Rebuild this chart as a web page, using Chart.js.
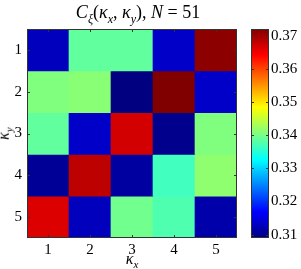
<!DOCTYPE html>
<html>
<head>
<meta charset="utf-8">
<script src="https://cdn.jsdelivr.net/npm/chart.js@4"></script>
<style>
  body { margin: 0; width: 301px; height: 269px; background: #fff; position: relative; overflow: hidden; font-family: "Liberation Serif", serif; }
  canvas { position: absolute; top: 0; }
  .lbl { position: absolute; font-size: 16px; color: #000; white-space: nowrap; line-height: 1; }
  .lbl sub { font-size: 11px; }
  #title { font-size: 18px; }
  #title sub { font-size: 12px; }
</style>
</head>
<body>
<canvas id="heat" width="240" height="269" style="left:0;width:240px;height:269px"></canvas>
<canvas id="cbar" width="56" height="269" style="left:245px;width:56px;height:269px"></canvas>
<div class="lbl" id="title" style="left:138px;top:3px;transform:translateX(-50%)"><i>C</i><sub><i>ξ</i></sub>(<i>κ</i><sub><i>x</i></sub>, <i>κ</i><sub><i>y</i></sub>), <i>N</i> = 51</div>
<div class="lbl" style="left:132px;top:251px;transform:translateX(-50%)"><i>κ</i><sub><i>x</i></sub></div>
<div class="lbl" style="left:-1px;top:124px;transform:rotate(-90deg)"><i>κ</i><sub><i>y</i></sub></div>
<script>
const kx = ["1", "2", "3", "4", "5"];
const ky = [1, 2, 3, 4, 5];
// one array per row (ky = 1..5), values per kx column
const row1 = [0.3128, 0.3386, 0.3386, 0.3135, 0.3712];
const row2 = [0.3405, 0.3411, 0.3090, 0.3720, 0.3135];
const row3 = [0.3386, 0.3135, 0.3669, 0.3098, 0.3405];
const row4 = [0.3104, 0.3682, 0.3110, 0.3366, 0.3415];
const row5 = [0.3663, 0.3128, 0.3396, 0.3375, 0.3116];
const rows = [row1, row2, row3, row4, row5];
const cbarTicks = [0.31, 0.32, 0.33, 0.34, 0.35, 0.36, 0.37];

const vmin = Math.min(...rows.flat());
const vmax = Math.max(...rows.flat());

Chart.defaults.font.family = "'Liberation Serif', serif";
Chart.defaults.font.size = 15;
Chart.defaults.color = "#000";

function jet(v) {
  const t = (v - vmin) / (vmax - vmin);
  const c = x => Math.round(255 * Math.max(0, Math.min(1, x)));
  return `rgb(${c(1.5 - Math.abs(4 * t - 3))},${c(1.5 - Math.abs(4 * t - 2))},${c(1.5 - Math.abs(4 * t - 1))})`;
}

// matlab-style box with inward ticks on every side
const boxPlugin = {
  id: "box",
  afterDraw(chart) {
    const { ctx, chartArea: a, scales } = chart;
    ctx.save();
    ctx.strokeStyle = "#333";
    ctx.lineWidth = 1;
    ctx.strokeRect(a.left + 0.5, a.top + 0.5, a.right - a.left - 1, a.bottom - a.top - 1);
    ctx.beginPath();
    if (scales.x.options.display) {
      scales.x.ticks.forEach((t, i) => {
        const x = Math.round(scales.x.getPixelForTick(i)) + 0.5;
        ctx.moveTo(x, a.top); ctx.lineTo(x, a.top + 3);
        ctx.moveTo(x, a.bottom); ctx.lineTo(x, a.bottom - 3);
      });
    }
    scales.y.ticks.forEach((t, i) => {
      const y = Math.round(scales.y.getPixelForTick(i)) + 0.5;
      ctx.moveTo(a.left, y); ctx.lineTo(a.left + 3, y);
      ctx.moveTo(a.right, y); ctx.lineTo(a.right - 3, y);
    });
    ctx.stroke();
    ctx.restore();
  }
};

const noGrid = { display: false, drawTicks: false, tickLength: 0 };

new Chart(document.getElementById("heat"), {
  type: "bar",
  data: {
    labels: kx,
    datasets: rows.map((row, i) => ({
      data: row.map(() => [ky[i] - 0.5, ky[i] + 0.5]),
      backgroundColor: row.map(jet),
      borderWidth: 0,
      grouped: false,
      barPercentage: 1,
      categoryPercentage: 1
    }))
  },
  options: {
    responsive: false,
    animation: false,
    layout: { padding: { top: 29, right: 3, left: 0, bottom: 0 } },
    plugins: { legend: { display: false }, tooltip: { enabled: false } },
    scales: {
      x: {
        grid: noGrid,
        border: { display: false },
        ticks: { padding: 3 },
        afterFit: s => { s.height = 31; }
      },
      y: {
        min: 0.5,
        max: 5.5,
        reverse: true,
        grid: noGrid,
        border: { display: false },
        ticks: { padding: 5 },
        afterBuildTicks: s => { s.ticks = ky.map(v => ({ value: v })); },
        afterFit: s => { s.width = 27; }
      }
    }
  },
  plugins: [boxPlugin]
});

new Chart(document.getElementById("cbar"), {
  type: "bar",
  data: {
    labels: [""],
    datasets: [{
      data: [[vmin, vmax]],
      borderWidth: 0,
      barPercentage: 1,
      categoryPercentage: 1,
      backgroundColor: ctx => {
        const a = ctx.chart.chartArea;
        if (!a) return "#000080";
        const g = ctx.chart.ctx.createLinearGradient(0, a.bottom, 0, a.top);
        [[0, "#000080"], [0.125, "#0000ff"], [0.375, "#00ffff"], [0.625, "#ffff00"], [0.875, "#ff0000"], [1, "#800000"]]
          .forEach(([p, col]) => g.addColorStop(p, col));
        return g;
      }
    }]
  },
  options: {
    responsive: false,
    animation: false,
    layout: { padding: { top: 29, right: 0, left: 6, bottom: 31 } },
    plugins: { legend: { display: false }, tooltip: { enabled: false } },
    scales: {
      x: { display: false },
      y: {
        position: "right",
        min: vmin,
        max: vmax,
        grid: noGrid,
        border: { display: false },
        ticks: { padding: 2, callback: v => v.toFixed(2) },
        afterBuildTicks: s => { s.ticks = cbarTicks.map(v => ({ value: v })); },
        afterFit: s => { s.width = 32; }
      }
    }
  },
  plugins: [boxPlugin]
});
</script>
</body>
</html>
